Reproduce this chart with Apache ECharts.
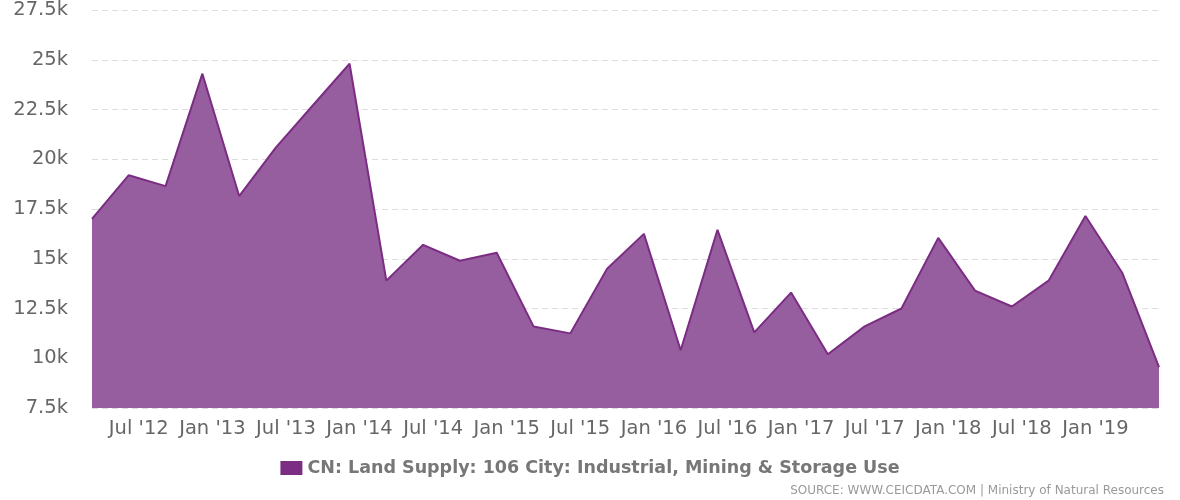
<!DOCTYPE html>
<html><head><meta charset="utf-8">
<script src="https://cdn.jsdelivr.net/npm/echarts@6/dist/echarts.min.js"></script>
<style>body{margin:0}#c{width:1180px;height:500px}</style>
</head><body><div id="c"></div>
<script>
// quarterly, Apr 2012 .. Jul 2019
var months=['Apr','Jul','Oct','Jan'];
var categories=[];
for(var i=0;i<30;i++){
	var m=months[i%4];
	var y=2012+Math.floor((i+1)/4);
	categories.push(m+" '"+String(y).slice(2));
}
var values=[17000,19200,18650,24300,18150,20600,22700,24800,13900,15700,14900,15300,
	11600,11250,14500,16250,10400,16450,11300,13300,10200,11600,12500,16050,13400,12600,13900,17150,14300,9550];
var seriesName='CN: Land Supply: 106 City: Industrial, Mining & Storage Use';

var chart=echarts.init(document.getElementById('c'));
chart.setOption({
	animation:false,
	grid:{left:92,right:21,top:10,bottom:92,containLabel:false,outerBoundsMode:'none'},
	legend:{bottom:18,left:'center',itemWidth:22,itemHeight:14,icon:'rect',
		textStyle:{fontFamily:'DejaVu Sans',fontSize:17.5,fontWeight:'bold',color:'#777'}},
	graphic:[{type:'text',right:16,bottom:3,style:{text:'SOURCE: WWW.CEICDATA.COM | Ministry of Natural Resources',
		fontFamily:'DejaVu Sans',fontSize:12,fill:'#999'}}],
	xAxis:{type:'category',data:categories,boundaryGap:false,
		axisLine:{show:false},axisTick:{show:false},
		axisLabel:{interval:function(i,v){return i<29&&(v.indexOf('Jul')==0||v.indexOf('Jan')==0);},
			fontFamily:'DejaVu Sans',fontSize:19.5,color:'#666',margin:11,padding:[0,0,0,20]}},
	yAxis:{type:'value',min:7500,max:27500,interval:2500,
		axisLabel:{formatter:function(v){return (v/1000)+'k';},fontFamily:'DejaVu Sans',fontSize:19.5,color:'#666',margin:24},
		splitLine:{lineStyle:{color:'#ddd',type:[6,4]}}},
	series:[{name:seriesName,type:'line',data:values,symbol:'none',
		itemStyle:{color:'#7b2c83'},
		lineStyle:{color:'#7b2c83',width:2},
		areaStyle:{color:'#975e9f',opacity:1}}]
});
</script></body></html>
